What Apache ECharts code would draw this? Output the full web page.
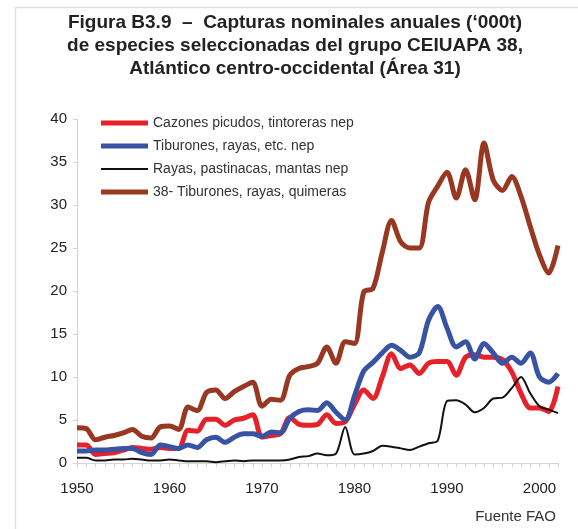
<!DOCTYPE html>
<html>
<head>
<meta charset="utf-8">
<script src="https://cdn.jsdelivr.net/npm/echarts@6/dist/echarts.min.js"></script>
<style>
  html, body { margin: 0; padding: 0; background: #fff; }
  #chart { width: 578px; height: 529px; }
</style>
</head>
<body>
<div id="chart"></div>
<script>
// años 1950 - 2002
const years = []
for (let y = 1950; y <= 2002; y++) years.push(String(y))

// Cazones picudos, tintoreras nep
const cazones = [
  2.1, 2.1, 1.0, 1.1, 1.2, 1.5, 1.8, 1.7, 1.6, 1.8,
  1.7, 1.7, 3.8, 3.7, 5.1, 5.1, 4.4, 5.0, 5.2, 5.6,
  3.0, 3.2, 3.4, 5.3, 4.5, 4.4, 4.5, 5.6, 4.6, 4.8,
  6.8, 8.5, 7.5, 10.0, 12.7, 11.0, 11.4, 10.4, 11.6, 11.8,
  11.8, 10.2, 12.3, 12.6, 12.3, 12.3, 12.0, 10.6, 8.1, 6.4,
  6.4, 6.0, 8.9
]

// Tiburones, rayas, etc. nep
const tiburones = [
  1.4, 1.4, 1.5, 1.5, 1.6, 1.7, 1.7, 1.2, 1.0, 2.1,
  1.9, 1.7, 2.1, 1.8, 2.7, 3.0, 2.4, 3.0, 3.4, 3.4,
  3.1, 3.6, 3.5, 5.2, 6.0, 6.2, 6.1, 7.0, 5.9, 5.0,
  7.8, 10.7, 11.7, 12.8, 13.7, 13.1, 12.3, 12.8, 16.6, 18.2,
  15.7, 13.5, 14.1, 12.1, 13.9, 12.8, 11.6, 12.3, 11.6, 12.8,
  10.0, 9.4, 10.4
]

// Rayas, pastinacas, mantas nep
const rayas = [
  0.6, 0.6, 0.3, 0.3, 0.4, 0.4, 0.5, 0.4, 0.3, 0.3,
  0.4, 0.3, 0.2, 0.2, 0.2, 0.1, 0.2, 0.3, 0.2, 0.3,
  0.3, 0.3, 0.3, 0.4, 0.7, 0.8, 1.1, 0.9, 1.1, 4.2,
  1.0, 1.1, 1.4, 2.0, 1.9, 1.7, 1.5, 1.9, 2.3, 2.6,
  7.2, 7.3, 6.8, 5.9, 6.4, 7.5, 7.6, 8.7, 10.0, 8.1,
  6.6, 6.2, 5.8
]

// 38- Tiburones, rayas, quimeras
const total38 = [
  4.1, 4.0, 2.7, 3.0, 3.2, 3.5, 3.9, 3.1, 2.9, 4.2,
  4.3, 3.9, 6.5, 6.1, 8.2, 8.5, 7.5, 8.3, 8.9, 9.4,
  6.6, 7.4, 7.3, 10.2, 11.0, 11.2, 11.6, 13.5, 11.6, 14.1,
  13.9, 19.9, 20.3, 24.5, 28.2, 25.7, 25.0, 25.0, 30.3, 32.2,
  33.8, 30.8, 34.1, 30.6, 37.2, 32.9, 31.7, 33.3, 31.0, 27.5,
  24.2, 22.1, 25.3
]

const seriesNames = [
  'Cazones picudos, tintoreras nep',
  'Tiburones, rayas, etc. nep',
  'Rayas, pastinacas, mantas nep',
  '38- Tiburones, rayas, quimeras'
]

const font = '"Liberation Sans", Arial, sans-serif'
const axisGrey = '#d4d4d4'

// iconos de la leyenda: barras planas (gruesa / fina)
const thickIcon = 'path://M0,0H47V5H0Z'
const thinIcon = 'path://M0,0H47V2H0Z'

const chart = echarts.init(document.getElementById('chart'))

function lineSeries(name, data, color, width) {
  return {
    name,
    type: 'line',
    data,
    smooth: 0.3,
    symbol: 'none',
    lineStyle: { color, width },
    itemStyle: { color }
  }
}

chart.setOption({
  animation: false,
  backgroundColor: '#fff',
  title: {
    text: 'Figura B3.9  –  Capturas nominales anuales (‘000t)\nde especies seleccionadas del grupo CEIUAPA 38,\nAtlántico centro-occidental (Área 31)',
    left: 290,
    top: 6,
    textAlign: 'center',
    textStyle: {
      fontFamily: font,
      fontSize: 19,
      fontWeight: 'bold',
      color: '#222',
      lineHeight: 23
    }
  },
  legend: {
    orient: 'vertical',
    left: 96,
    top: 111,
    itemWidth: 47,
    itemHeight: 14,
    itemGap: 9,
    data: [
      { name: seriesNames[0], icon: thickIcon },
      { name: seriesNames[1], icon: thickIcon },
      { name: seriesNames[2], icon: thinIcon },
      { name: seriesNames[3], icon: thickIcon }
    ],
    textStyle: { fontFamily: font, fontSize: 14, color: '#333' }
  },
  graphic: [
    {
      type: 'rect',
      left: 13,
      top: 5,
      shape: { width: 620, height: 600 },
      style: { fill: 'none', stroke: '#e2e2e2', lineWidth: 1.5 },
      z: -1
    },
    {
      type: 'text',
      right: 22,
      top: 509,
      style: { text: 'Fuente FAO', font: '15px ' + font, fill: '#333' }
    }
  ],
  grid: { left: 77, right: 20, top: 119, bottom: 66, containLabel: false },
  xAxis: {
    type: 'category',
    data: years,
    boundaryGap: false,
    axisLine: { lineStyle: { color: axisGrey } },
    axisTick: { interval: 0, length: 4, lineStyle: { color: axisGrey } },
    axisLabel: {
      interval: 9,
      margin: 18,
      fontFamily: font,
      fontSize: 15,
      color: '#222'
    },
    splitLine: { show: false }
  },
  yAxis: {
    type: 'value',
    min: 0,
    max: 40,
    interval: 5,
    axisLine: { show: true, lineStyle: { color: axisGrey } },
    axisTick: { show: true, length: 4, lineStyle: { color: axisGrey } },
    axisLabel: { margin: 10, fontFamily: font, fontSize: 15, color: '#222' },
    splitLine: { show: false }
  },
  series: [
    lineSeries(seriesNames[0], cazones, '#e62129', 5),
    lineSeries(seriesNames[1], tiburones, '#3953a4', 5),
    lineSeries(seriesNames[2], rayas, '#111111', 2),
    lineSeries(seriesNames[3], total38, '#993822', 5)
  ]
})
</script>
</body>
</html>
